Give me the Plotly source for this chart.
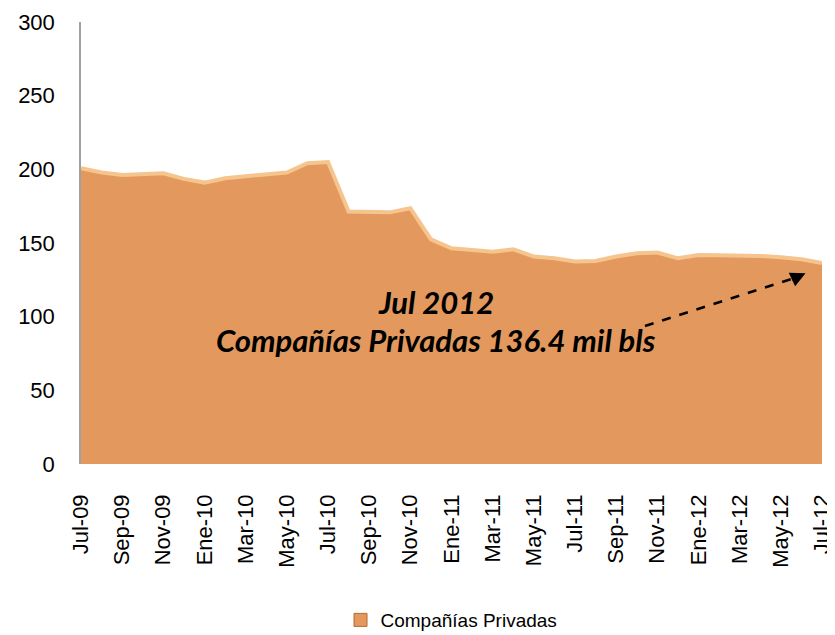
import plotly.graph_objects as go

months = ["Jul-09", "Ago-09", "Sep-09", "Oct-09", "Nov-09", "Dic-09",
          "Ene-10", "Feb-10", "Mar-10", "Abr-10", "May-10", "Jun-10",
          "Jul-10", "Ago-10", "Sep-10", "Oct-10", "Nov-10", "Dic-10",
          "Ene-11", "Feb-11", "Mar-11", "Abr-11", "May-11", "Jun-11",
          "Jul-11", "Ago-11", "Sep-11", "Oct-11", "Nov-11", "Dic-11",
          "Ene-12", "Feb-12", "Mar-12", "Abr-12", "May-12", "Jun-12",
          "Jul-12"]

privadas = [200.8, 197.8, 196.2, 197.0, 197.3, 193.5,
            191.0, 194.0, 195.1, 196.2, 197.8, 204.1,
            205.0, 171.3, 171.3, 170.8, 173.6, 152.5,
            146.4, 145.3, 144.1, 145.7, 140.8, 139.6,
            137.4, 137.8, 140.8, 143.0, 143.5, 139.6,
            141.9, 141.7, 141.7, 141.2, 140.3, 139.0,
            136.4]

series_name = "Compañías Privadas"
axis_font = "'Liberation Sans', Arial, sans-serif"
note_font = "Lato, 'Open Sans', sans-serif"
orange = "#E3985D"

fig = go.Figure()
fig.add_trace(go.Scatter(
    x=months, y=privadas, name=series_name, showlegend=False,
    mode="lines", fill="tozeroy", fillcolor=orange,
    line=dict(color="#F6C48D", width=4),
))
# legend swatch (square, as in the original)
fig.add_trace(go.Scatter(
    x=[None], y=[None], name=series_name, mode="markers",
    marker=dict(symbol="square", size=13, color=orange,
                line=dict(color="#B26A35", width=1)),
))

# dashed arrow pointing at the last value
fig.add_shape(type="line", xref="x", yref="y",
              x0=27.4, y0=93.7, x1=34.5, y1=125.5,
              line=dict(color="black", width=2.5, dash="dash"))
fig.add_annotation(x=35.2, y=129.5, xref="x", yref="y",
                   ax=-15, ay=7, showarrow=True, arrowhead=2,
                   arrowsize=1.2, arrowwidth=2.5, arrowcolor="black", text="")

fig.add_annotation(x=17.25, y=110, xref="x", yref="y", showarrow=False,
                   text="<b><i>Jul 2012</i></b>",
                   font=dict(family=note_font, size=31, color="black"))
fig.add_annotation(x=17.25, y=84.3, xref="x", yref="y", showarrow=False,
                   text="<b><i>Compañías Privadas 136.4 mil bls</i></b>",
                   font=dict(family=note_font, size=31, color="black"))

# page body adds an 8px offset; figure runs past the window bottom so the
# legend has room and does not push the margins
fig.update_layout(
    width=827, height=660,
    margin=dict(l=73, r=13, t=14, b=204),
    paper_bgcolor="white", plot_bgcolor="white",
    font=dict(family=axis_font, size=22, color="black"),
    showlegend=True,
    legend=dict(orientation="h", x=0.50, xanchor="center", y=-0.353,
                yanchor="middle", font=dict(size=19),
                itemwidth=30),
)
fig.update_xaxes(type="category", range=[0, 36], automargin=False,
                 tickvals=months[::2], tickangle=-90, ticklabelstandoff=25,
                 showgrid=False, showline=False, ticks="", zeroline=False)
fig.update_yaxes(range=[0, 300], dtick=50, automargin=False,
                 ticklabelstandoff=20, showgrid=False,
                 showline=True, linecolor="#A0A0A0", linewidth=1.5,
                 ticks="", zeroline=False)

fig.write_html("out.html")
